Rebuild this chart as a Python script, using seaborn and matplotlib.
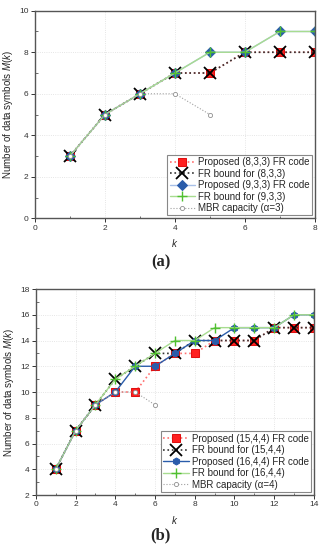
import numpy as np
import pandas as pd
import seaborn as sns
import matplotlib.pyplot as plt
from matplotlib.ticker import MultipleLocator

# data
k_a = [1, 2, 3, 4, 5, 6, 7, 8]
prop_833 = [3, 5, 6, 7, 7, 8, 8, 8]
bound_833 = [3, 5, 6, 7, 7, 8, 8, 8]
prop_933 = [3, 5, 6, 7, 8, 8, 9, 9]
bound_933 = [3, 5, 6, 7, 8, 8, 9, 9]
k_mbr_a = [1, 2, 3, 4, 5]
mbr_a = [3, 5, 6, 6, 5]

k_b = [1, 2, 3, 4, 5, 6, 7, 8, 9, 10, 11, 12, 13, 14]
prop_1544 = [4, 7, 9, 10, 10, 12, 13, 13, 14, 14, 14, 15, 15, 15]
bound_1544 = [4, 7, 9, 11, 12, 13, 13, 14, 14, 14, 14, 15, 15, 15]
prop_1644 = [4, 7, 9, 10, 12, 12, 13, 14, 14, 15, 15, 15, 16, 16]
bound_1644 = [4, 7, 9, 11, 12, 13, 14, 14, 15, 15, 15, 15, 16, 16]
k_mbr_b = [1, 2, 3, 4, 5, 6]
mbr_b = [4, 7, 9, 10, 10, 9]

sns.set_style("white")
plt.rcParams['font.family'] = ['Liberation Sans', 'DejaVu Sans']
plt.rcParams['mathtext.fontset'] = 'custom'
plt.rcParams['mathtext.it'] = 'Liberation Sans:italic'
plt.rcParams['mathtext.rm'] = 'Liberation Sans'

fig = plt.figure(figsize=(3.23, 5.5), dpi=100)
ax1 = fig.add_axes([0.108, 0.603, 0.867, 0.3775])
ax2 = fig.add_axes([0.111, 0.100, 0.861, 0.3745])


def draw(ax, k, mbr_k, p1, b1, p2, b2, mbr, labels, blue_line, blue_marker):
    sns.lineplot(x=k, y=p1, ax=ax, color='#ff7070', linestyle=':', lw=1.2,
                 marker='s', ms=6, mfc='#ff2020', mec='#e01010', label=labels[0])
    sns.lineplot(x=k, y=b1, ax=ax, color='#333333', linestyle=':', lw=1.2,
                 marker='x', ms=8, mew=1.3, mec='black', label=labels[1])
    sns.lineplot(x=k, y=p2, ax=ax, color=blue_line, linestyle='-', lw=1.0,
                 marker=blue_marker, ms=5, mfc='#2a5caa', mec='#2a5caa', label=labels[2])
    sns.lineplot(x=k, y=b2, ax=ax, color='#a8dc90', linestyle='-', lw=1.0,
                 marker='+', ms=7, mew=1.0, mec='#50c030', label=labels[3])
    sns.lineplot(x=mbr_k, y=mbr, ax=ax, color='#a0a0a0', linestyle=':', lw=0.8,
                 marker='o', ms=3, mfc='white', mec='#909090', mew=0.6, label=labels[4])
    ax.grid(True, which='major', color='#dddddd', linestyle=':', lw=0.6)
    ax.tick_params(which='major', direction='out', length=3, width=0.7,
                   labelsize=6, pad=1.5, colors='#333333', left=True, bottom=True)
    ax.tick_params(which='minor', direction='in', length=1.8, width=0.6,
                   left=True, bottom=True, colors='#555555')
    for s in ax.spines.values():
        s.set_color('#555555')
        s.set_linewidth(1.0)
    ax.set_xlabel('$k$', fontsize=7, labelpad=4)
    ax.set_ylabel('Number of data symbols $M$($k$)', fontsize=7, labelpad=3)
    leg = ax.legend(loc='lower right', fontsize=7, frameon=True, fancybox=False,
                    framealpha=1, edgecolor='#888888', labelspacing=0.15,
                    handlelength=2.6, handletextpad=0.3, borderpad=0.25,
                    borderaxespad=0.3)
    leg.get_frame().set_linewidth(0.8)


draw(ax1, k_a, k_mbr_a, prop_833, bound_833, prop_933, bound_933, mbr_a,
     ['Proposed (8,3,3) FR code', 'FR bound for (8,3,3)',
      'Proposed (9,3,3) FR code', 'FR bound for (9,3,3)',
      'MBR capacity (\u03b1=3)'], '#a8c0e8', 'D')
ax1.set_xlim(0, 8)
ax1.set_ylim(0, 10)
ax1.xaxis.set_major_locator(MultipleLocator(2))
ax1.xaxis.set_minor_locator(MultipleLocator(1))
ax1.yaxis.set_major_locator(MultipleLocator(2))
ax1.yaxis.set_minor_locator(MultipleLocator(1))

draw(ax2, k_b, k_mbr_b, prop_1544, bound_1544, prop_1644, bound_1644, mbr_b,
     ['Proposed (15,4,4) FR code', 'FR bound for (15,4,4)',
      'Proposed (16,4,4) FR code', 'FR bound for (16,4,4)',
      'MBR capacity (\u03b1=4)'], '#2a5caa', 'h')
ax2.set_xlim(0, 14)
ax2.set_ylim(2, 18)
ax2.xaxis.set_major_locator(MultipleLocator(2))
ax2.xaxis.set_minor_locator(MultipleLocator(1))
ax2.yaxis.set_major_locator(MultipleLocator(2))
ax2.yaxis.set_minor_locator(MultipleLocator(1))

fig.text(0.497, 1 - 262 / 550, '(a)', ha='center', va='center', fontsize=12,
         fontweight='bold', family=['Liberation Serif', 'DejaVu Serif'])
fig.text(0.497, 1 - 535 / 550, '(b)', ha='center', va='center', fontsize=12,
         fontweight='bold', family=['Liberation Serif', 'DejaVu Serif'])

fig.savefig('out.png', dpi=100)
